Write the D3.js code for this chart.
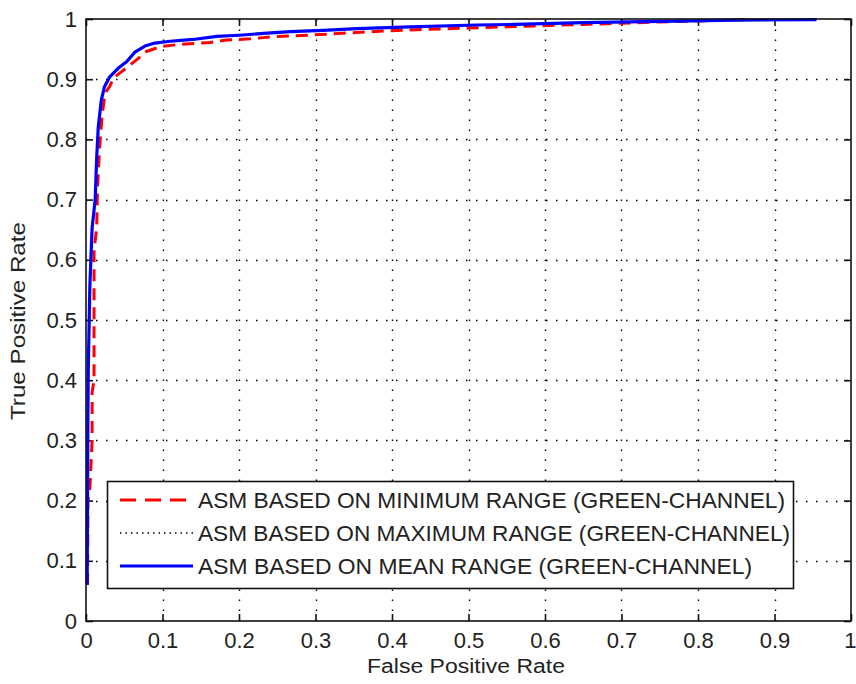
<!DOCTYPE html>
<html>
<head>
<meta charset="utf-8">
<script src="https://cdn.jsdelivr.net/npm/d3@7"></script>
<style>
  html, body { margin: 0; padding: 0; background: #fff; }
  svg { display: block; }
  text { font-family: "Liberation Sans", Arial, sans-serif; fill: #222; }
</style>
</head>
<body>
<svg id="chart" width="856" height="684"></svg>
<script>
// ROC curves for ASM texture features on the green channel
const xTicks = [0, 0.1, 0.2, 0.3, 0.4, 0.5, 0.6, 0.7, 0.8, 0.9, 1];
const yTicks = [0, 0.1, 0.2, 0.3, 0.4, 0.5, 0.6, 0.7, 0.8, 0.9, 1];
const tickLabels = ["0", "0.1", "0.2", "0.3", "0.4", "0.5", "0.6", "0.7", "0.8", "0.9", "1"];

const seriesNames = [
  "ASM BASED ON MINIMUM RANGE (GREEN-CHANNEL)",
  "ASM BASED ON MAXIMUM RANGE (GREEN-CHANNEL)",
  "ASM BASED ON MEAN RANGE (GREEN-CHANNEL)"
];

// minimum range
const fprMin = [0.002, 0.0025, 0.005, 0.008, 0.008, 0.0105, 0.0105, 0.014, 0.015, 0.018, 0.021, 0.025, 0.031, 0.036, 0.049, 0.066, 0.079, 0.097, 0.123, 0.162, 0.184, 0.214, 0.249, 0.289, 0.345, 0.389, 0.45, 0.55, 0.65, 0.75, 0.867];
const tprMin = [0.06, 0.2, 0.22, 0.3, 0.38, 0.4, 0.616, 0.653, 0.72, 0.79, 0.84, 0.877, 0.888, 0.902, 0.915, 0.932, 0.946, 0.954, 0.958, 0.961, 0.965, 0.967, 0.971, 0.973, 0.977, 0.98, 0.983, 0.987, 0.991, 0.995, 0.999];

// maximum range
const fprMax = [0.0015, 0.002, 0.0025, 0.003, 0.005, 0.008, 0.012, 0.014, 0.016, 0.02, 0.024, 0.031, 0.042, 0.053, 0.064, 0.077, 0.09, 0.11, 0.14, 0.171, 0.2, 0.232, 0.267, 0.31, 0.354, 0.424, 0.511, 0.56, 0.65, 0.75, 0.85, 0.95];
const tprMax = [0.07, 0.21, 0.35, 0.43, 0.56, 0.66, 0.705, 0.775, 0.825, 0.868, 0.889, 0.905, 0.919, 0.93, 0.946, 0.955, 0.96, 0.963, 0.966, 0.971, 0.973, 0.976, 0.979, 0.981, 0.984, 0.987, 0.99, 0.991, 0.994, 0.996, 0.998, 0.999];

// mean range
const fprMean = [0.0015, 0.002, 0.0025, 0.003, 0.005, 0.008, 0.012, 0.014, 0.016, 0.02, 0.024, 0.031, 0.042, 0.053, 0.064, 0.077, 0.09, 0.11, 0.14, 0.171, 0.2, 0.232, 0.267, 0.31, 0.354, 0.424, 0.511, 0.56, 0.65, 0.75, 0.85, 0.955];
const tprMean = [0.06, 0.2, 0.34, 0.42, 0.555, 0.653, 0.70, 0.77, 0.82, 0.865, 0.887, 0.904, 0.918, 0.929, 0.945, 0.955, 0.96, 0.963, 0.966, 0.971, 0.973, 0.976, 0.979, 0.981, 0.984, 0.987, 0.99, 0.991, 0.994, 0.996, 0.998, 0.999];

const svg = d3.select("#chart");
const plot = { left: 86, right: 851, top: 19, bottom: 621 };

const x = d3.scaleLinear().domain([0, 1]).range([plot.left, plot.right]);
const y = d3.scaleLinear().domain([0, 1]).range([plot.bottom, plot.top]);

// background
svg.append("rect").attr("width", 856).attr("height", 684).attr("fill", "#fff");

// dotted grid
const grid = svg.append("g").attr("stroke", "#000").attr("stroke-width", 1.4)
  .attr("stroke-dasharray", "1.5,8.5");
grid.selectAll("line.gx").data(xTicks.slice(1, -1)).join("line")
  .attr("x1", d => Math.round(x(d)) + 0.5).attr("x2", d => Math.round(x(d)) + 0.5)
  .attr("y1", plot.bottom).attr("y2", plot.top);
grid.selectAll("line.gy").data(yTicks.slice(1, -1)).join("line")
  .attr("y1", d => Math.round(y(d)) + 0.5).attr("y2", d => Math.round(y(d)) + 0.5)
  .attr("x1", plot.left).attr("x2", plot.right);

// axes with inward ticks on all four sides
const fmt = (d, i) => tickLabels[i];
const tickLen = 7;
const axB = svg.append("g").attr("transform", `translate(0,${plot.bottom})`)
  .call(d3.axisBottom(x).tickValues(xTicks).tickFormat(fmt).tickSizeInner(-tickLen).tickSizeOuter(0).tickPadding(11));
const axL = svg.append("g").attr("transform", `translate(${plot.left},0)`)
  .call(d3.axisLeft(y).tickValues(yTicks).tickFormat(fmt).tickSizeInner(-tickLen).tickSizeOuter(0).tickPadding(9));
const axT = svg.append("g").attr("transform", `translate(0,${plot.top})`)
  .call(d3.axisTop(x).tickValues(xTicks).tickFormat("").tickSizeInner(-tickLen).tickSizeOuter(0));
const axR = svg.append("g").attr("transform", `translate(${plot.right},0)`)
  .call(d3.axisRight(y).tickValues(yTicks).tickFormat("").tickSizeInner(-tickLen).tickSizeOuter(0));
[axB, axL, axT, axR].forEach(a => {
  a.select(".domain").remove();
  a.selectAll(".tick line").attr("stroke", "#111").attr("stroke-width", 1.6);
  a.selectAll(".tick text").attr("font-size", 22).attr("fill", "#222")
    .attr("font-family", "'Liberation Sans', Arial, sans-serif");
});
// keep the last x label inside the page edge
axB.selectAll(".tick text").filter(d => d === 1).attr("text-anchor", "end").attr("dx", 5);

// curves
const line = d3.line().x(d => x(d[0])).y(d => y(d[1]));
const series = [
  { fpr: fprMin, tpr: tprMin, color: "#ff0000", dash: "12,7", width: 3 },
  { fpr: fprMax, tpr: tprMax, color: "#000", dash: "1.5,4", width: 1.5 },
  { fpr: fprMean, tpr: tprMean, color: "#0000ff", dash: null, width: 3.2 }
];
series.forEach(s => {
  svg.append("path")
    .datum(d3.zip(s.fpr, s.tpr))
    .attr("d", line)
    .attr("fill", "none")
    .attr("stroke", s.color)
    .attr("stroke-width", s.width)
    .attr("stroke-dasharray", s.dash)
    .attr("stroke-linejoin", "round");
});

// plot frame
svg.append("rect")
  .attr("x", plot.left).attr("y", plot.top)
  .attr("width", plot.right - plot.left).attr("height", plot.bottom - plot.top)
  .attr("fill", "none").attr("stroke", "#111").attr("stroke-width", 1.6);

// axis titles
svg.append("text")
  .attr("x", 367).attr("y", 673)
  .attr("font-size", 20)
  .attr("textLength", 198).attr("lengthAdjust", "spacingAndGlyphs")
  .text("False Positive Rate");
svg.append("text")
  .attr("transform", `translate(25,420) rotate(-90)`)
  .attr("font-size", 20)
  .attr("textLength", 198).attr("lengthAdjust", "spacingAndGlyphs")
  .text("True Positive Rate");

// legend
const leg = svg.append("g");
leg.append("rect")
  .attr("x", 107.5).attr("y", 481.5).attr("width", 686).attr("height", 107)
  .attr("fill", "#fff").attr("stroke", "#111").attr("stroke-width", 1.6);
const rowY = [500, 533, 566];
const textLens = [587, 592, 554];
series.forEach((s, i) => {
  leg.append("line")
    .attr("x1", 120).attr("x2", 193).attr("y1", rowY[i]).attr("y2", rowY[i])
    .attr("stroke", s.color).attr("stroke-width", s.width)
    .attr("stroke-dasharray", i === 0 ? "16,9" : s.dash);
  leg.append("text")
    .attr("x", 198).attr("y", rowY[i] + 8)
    .attr("font-size", 22)
    .attr("textLength", textLens[i]).attr("lengthAdjust", "spacingAndGlyphs")
    .text(seriesNames[i]);
});
</script>
</body>
</html>
